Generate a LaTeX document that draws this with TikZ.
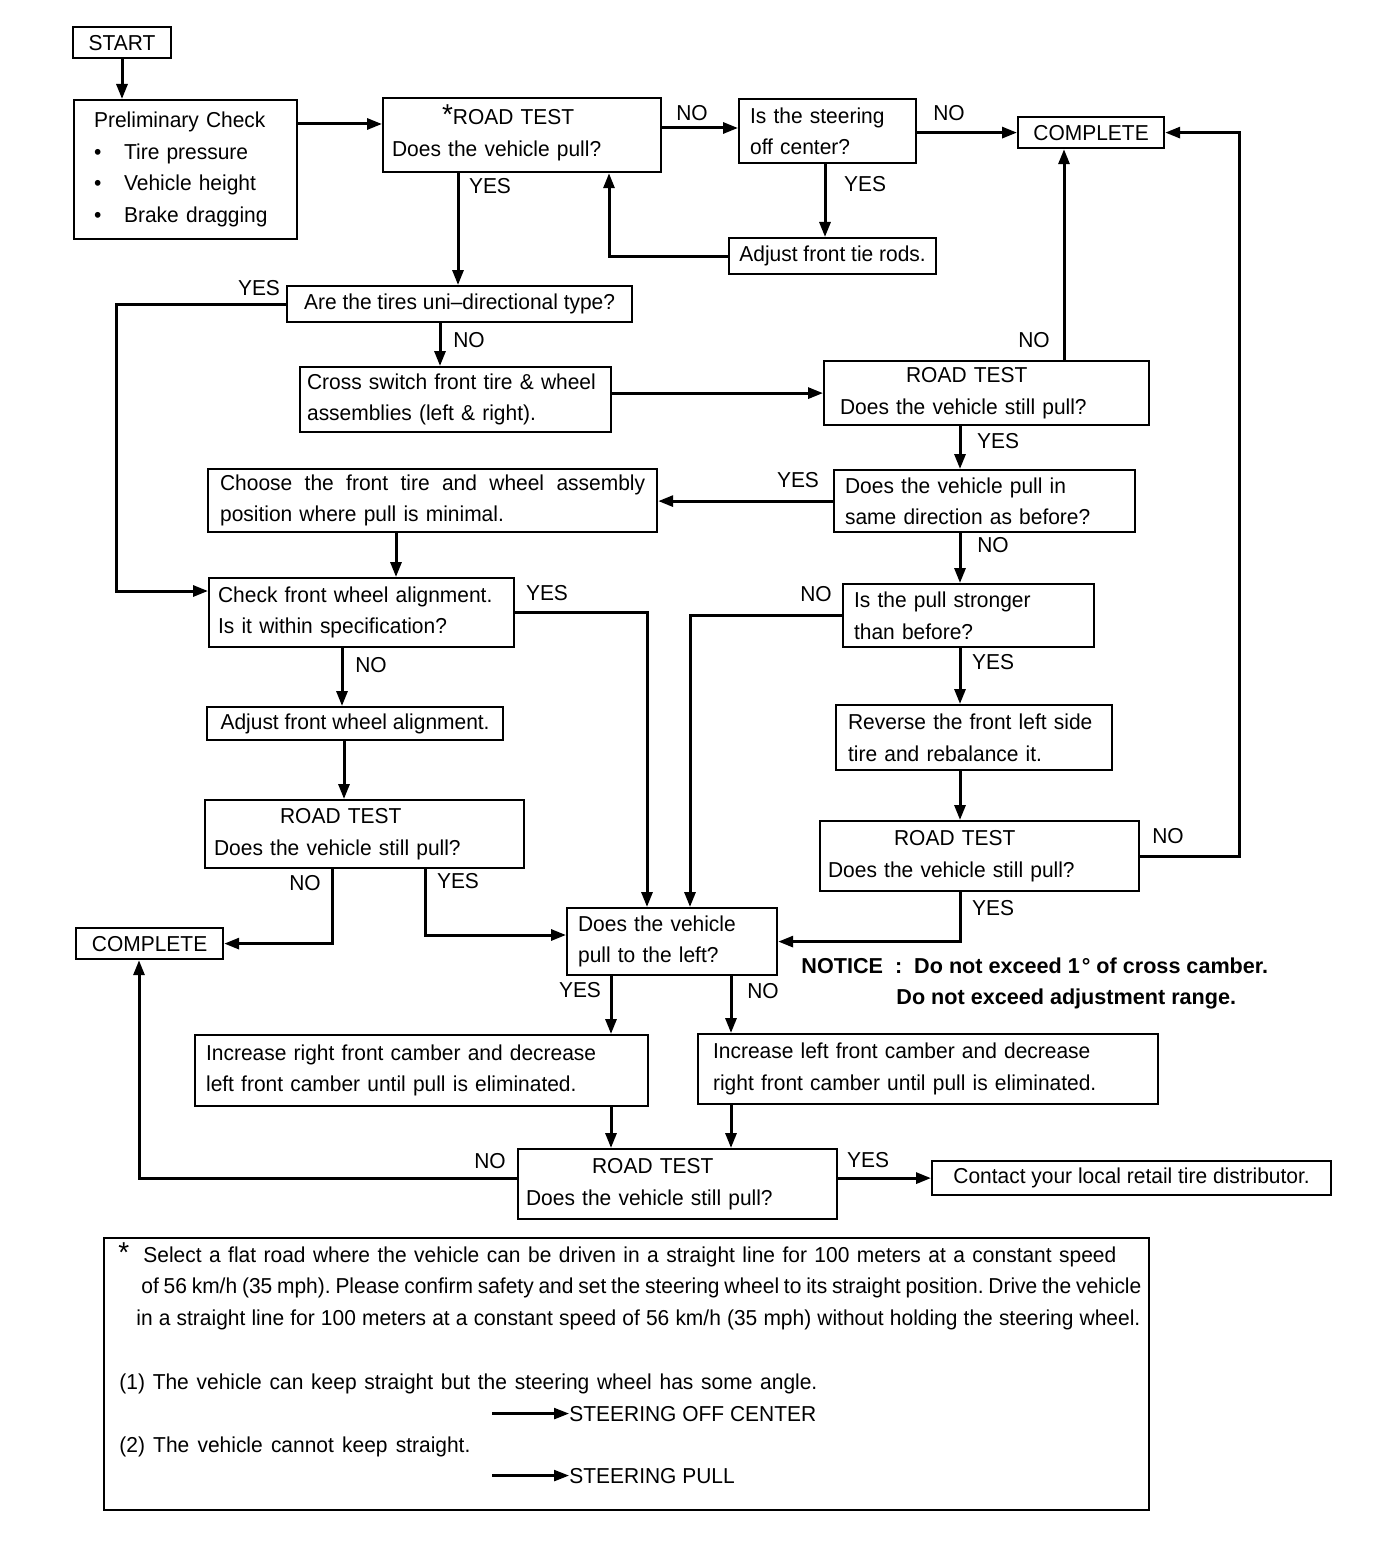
\documentclass[tikz,border=0pt]{standalone}
\usepackage{fontspec}
\setmainfont{Liberation Sans}[FakeStretch=0.97, BoldFeatures={FakeStretch=1.0}]
\usetikzlibrary{arrows.meta}
\frenchspacing

\begin{document}
\begin{tikzpicture}[x=0.5pt,y=-0.5pt,
    font=\fontsize{10.8pt}{15.8pt}\selectfont,
    box/.style={draw, line width=1.1pt, anchor=north west, inner ysep=2pt, align=left},
    lbl/.style={inner sep=0pt},
    arr/.style={line width=1.5pt, -{Triangle[length=7.5pt,width=5.5pt]}},
    line/.style={line width=1.5pt}]
\useasboundingbox (0,0) rectangle (1392,1562);

% boxes
\node[box, minimum width=49pt, minimum height=15.5pt, align=center, inner xsep=0pt] (start) at (72,26) {START};
\node[box, minimum width=111.5pt, minimum height=69.5pt, text width=91.5pt, inner xsep=10pt] (prelim) at (73,99)
    {Preliminary Check\\
     \makebox[15pt][l]{\textbullet}Tire pressure\\
     \makebox[15pt][l]{\textbullet}Vehicle height\\
     \makebox[15pt][l]{\textbullet}Brake dragging};
\node[box, minimum width=139pt, minimum height=37pt, text width=130pt, inner xsep=4.5pt] (rt1) at (382,97)
    {\hspace*{25pt}\smash{\Large*}ROAD TEST\\Does the vehicle pull?};
\node[box, minimum width=88.5pt, minimum height=32pt, text width=77.5pt, inner xsep=5.5pt] (steer) at (738,98)
    {Is the steering\\off center?};
\node[box, minimum width=73pt, minimum height=15.5pt, align=center, inner xsep=0pt] (comp1) at (1017,116) {COMPLETE};
\node[box, minimum width=103.5pt, minimum height=18pt, align=center, inner xsep=0pt] (tierods) at (728,237) {Adjust front tie rods.};
\node[box, minimum width=172.5pt, minimum height=18pt, align=center, inner xsep=0pt] (uni) at (286,285) {Are the tires uni--directional type?};
\node[box, minimum width=155.5pt, minimum height=32.5pt, text width=148.5pt, inner xsep=3.5pt] (cross) at (299,366)
    {Cross switch front tire \& wheel\\assemblies (left \& right).};
\node[box, minimum width=162.5pt, minimum height=32pt, text width=146.5pt, inner xsep=8pt] (rt2) at (823,360)
    {\hspace*{33pt}ROAD TEST\\Does the vehicle still pull?};
\node[box, minimum width=150.5pt, minimum height=31pt, text width=139.5pt, inner xsep=5.5pt] (samedir) at (833,469)
    {Does the vehicle pull in\\same direction as before?};
\node[box, minimum width=224.5pt, minimum height=31.5pt, text width=212.5pt, inner xsep=5.5pt] (choose) at (207,468)
    {Choose\hfill the\hfill front\hfill tire\hfill and\hfill wheel\hfill assembly\\position where pull is minimal.};
\node[box, minimum width=152.5pt, minimum height=34.5pt, text width=143.5pt, inner xsep=4.5pt] (check) at (208,577)
    {Check front wheel alignment.\\Is it within specification?};
\node[box, minimum width=125.5pt, minimum height=31.5pt, text width=114.5pt, inner xsep=5.5pt] (stronger) at (842,583)
    {Is the pull stronger\\than before?};
\node[box, minimum width=148pt, minimum height=16.5pt, align=center, inner xsep=0pt] (adjwheel) at (206,706) {Adjust front wheel alignment.};
\node[box, minimum width=159.5pt, minimum height=34pt, text width=150.5pt, inner xsep=4.5pt] (rt3) at (204,799)
    {\hspace*{33pt}ROAD TEST\\Does the vehicle still pull?};
\node[box, minimum width=73.5pt, minimum height=15.5pt, align=center, inner xsep=0pt] (comp2) at (75,927) {COMPLETE};
\node[box, minimum width=136.5pt, minimum height=32.5pt, text width=126pt, inner xsep=6pt] (reverse) at (835,704)
    {Reverse the front left side\\tire and rebalance it.};
\node[box, minimum width=159.5pt, minimum height=35pt, text width=151.5pt, inner xsep=4pt] (rt4) at (819,820)
    {\hspace*{33pt}ROAD TEST\\Does the vehicle still pull?};
\node[box, minimum width=105pt, minimum height=33.5pt, text width=94pt, inner xsep=5.5pt] (pullleft) at (566,907)
    {Does the vehicle\\pull to the left?};
\node[box, minimum width=226.5pt, minimum height=35.5pt, text width=215.5pt, inner xsep=5.5pt] (incright) at (194,1034)
    {Increase right front camber and decrease\\left front camber until pull is eliminated.};
\node[box, minimum width=230pt, minimum height=35pt, text width=215pt, inner xsep=7.5pt] (incleft) at (697,1033)
    {Increase left front camber and decrease\\right front camber until pull is eliminated.};
\node[box, minimum width=159.5pt, minimum height=35pt, text width=151.5pt, inner xsep=4pt] (rt5) at (517,1148)
    {\hspace*{33pt}ROAD TEST\\Does the vehicle still pull?};
\node[box, minimum width=199.5pt, minimum height=17pt, align=center, inner xsep=0pt] (contact) at (931,1160) {Contact your local retail tire distributor.};

% notice
\node[lbl, anchor=north west, align=left] (notice) at (801,957)
    {\bfseries NOTICE\ \ :\ \ Do not exceed 1\kern1pt° of cross camber.\\
     \hspace*{47.5pt}\bfseries Do not exceed adjustment range.};

% yes / no
\node[lbl] (n1) at (692,113) {NO};
\node[lbl] (n2) at (949,113) {NO};
\node[lbl] (y1) at (865,184) {YES};
\node[lbl] (y2) at (490,186) {YES};
\node[lbl] (y3) at (259,288) {YES};
\node[lbl] (n3) at (469,340) {NO};
\node[lbl] (n4) at (1034,340) {NO};
\node[lbl] (y4) at (998,441) {YES};
\node[lbl] (y5) at (798,480) {YES};
\node[lbl] (n5) at (993,545) {NO};
\node[lbl] (y6) at (547,593) {YES};
\node[lbl] (n6) at (816,594) {NO};
\node[lbl] (n7) at (371,665) {NO};
\node[lbl] (y7) at (993,662) {YES};
\node[lbl] (n8) at (1168,836) {NO};
\node[lbl] (n9) at (305,883) {NO};
\node[lbl] (y8) at (458,881) {YES};
\node[lbl] (y9) at (993,908) {YES};
\node[lbl] (y10) at (580,990) {YES};
\node[lbl] (n10) at (763,991) {NO};
\node[lbl] (n11) at (490,1161) {NO};
\node[lbl] (y11) at (868,1160) {YES};

% connectors
\draw[arr] (start.south -| 122,0) -- (122,0 |- prelim.north);
\draw[arr] (prelim.east |- 0,124) -- (rt1.west |- 0,124);
\draw[arr] (rt1.east |- 0,128) -- (steer.west |- 0,128);
\draw[arr] (steer.east |- comp1.west) -- (comp1.west);
\draw[arr] (825,0 |- steer.south) -- (825,0 |- tierods.north);
\draw[arr] (tierods.west) -- (609,0 |- tierods.west) -- (609,0 |- rt1.south);
\draw[arr] (458,0 |- rt1.south) -- (458,0 |- uni.north);
\draw[arr] (uni.west) -- (116,0 |- uni.west) -- (116,591) -- (check.west |- 0,591);
\draw[arr] (440,0 |- uni.south) -- (440,0 |- cross.north);
\draw[arr] (cross.east |- rt2.west) -- (rt2.west);
\draw[arr] (1064,0 |- rt2.north) -- (1064,0 |- comp1.south);
\draw[arr] (960,0 |- rt2.south) -- (960,0 |- samedir.north);
\draw[arr] (samedir.west) -- (choose.east |- samedir.west);
\draw[arr] (396,0 |- choose.south) -- (396,0 |- check.north);
\draw[arr] (960,0 |- samedir.south) -- (960,0 |- stronger.north);
\draw[arr] (check.east) -- (647,0 |- check.east) -- (647,0 |- pullleft.north);
\draw[arr] (stronger.west) -- (690,0 |- stronger.west) -- (690,0 |- pullleft.north);
\draw[arr] (342,0 |- check.south) -- (342,0 |- adjwheel.north);
\draw[arr] (344,0 |- adjwheel.south) -- (344,0 |- rt3.north);
\draw[arr] (332,0 |- rt3.south) -- (332,0 |- comp2.east) -- (comp2.east);
\draw[arr] (425,0 |- rt3.south) -- (425,935) -- (pullleft.west |- 0,935);
\draw[arr] (960,0 |- stronger.south) -- (960,0 |- reverse.north);
\draw[arr] (960,0 |- reverse.south) -- (960,0 |- rt4.north);
\draw[arr] (rt4.east) -- (1239,0 |- rt4.east) -- (1239,0 |- comp1.east) -- (comp1.east);
\draw[arr] (960,0 |- rt4.south) -- (960,0 |- pullleft.east) -- (pullleft.east);
\draw[arr] (611,0 |- pullleft.south) -- (611,0 |- incright.north);
\draw[arr] (731,0 |- pullleft.south) -- (731,0 |- incleft.north);
\draw[arr] (611,0 |- incright.south) -- (611,0 |- rt5.north);
\draw[arr] (731,0 |- incleft.south) -- (731,0 |- rt5.north);
\draw[arr] (rt5.west |- 0,1178) -- (139,1178) -- (139,0 |- comp2.south);
\draw[arr] (rt5.east |- contact.west) -- (contact.west);

% footnote
\node[box, minimum width=522.5pt, minimum height=136pt] (note) at (103,1237) {};
\node[lbl, anchor=north west, align=left] (notetxt) at (118,1242)
    {\makebox[12.5pt][l]{\Large*}\makebox[486.5pt][s]{Select a flat road where the vehicle can be driven in a straight line for 100 meters at a constant speed}\\
     \hspace*{11.5pt}\makebox[500pt][s]{of 56 km/h (35 mph). Please confirm safety and set the steering wheel to its straight position. Drive the vehicle}\\
     \hspace*{9pt}\makebox[502pt][s]{in a straight line for 100 meters at a constant speed of 56 km/h (35 mph) without holding the steering wheel.}};
\node[lbl, anchor=base west] (cond1) at (119,1389) {\makebox[349pt][s]{(1) The vehicle can keep straight but the steering wheel has some angle.}};
\node[lbl, anchor=base west] (soc) at (569,1421) {STEERING OFF CENTER};
\node[lbl, anchor=base west] (cond2) at (119,1452) {\makebox[175.5pt][s]{(2) The vehicle cannot keep straight.}};
\node[lbl, anchor=base west] (sp) at (569,1483) {STEERING PULL};
\coordinate (soctail) at (492,0 |- soc.west);
\coordinate (sptail) at (492,0 |- sp.west);
\draw[arr, line width=1.2pt] (soctail) -- (soc.west);
\draw[arr, line width=1.2pt] (sptail) -- (sp.west);
\end{tikzpicture}
\end{document}
